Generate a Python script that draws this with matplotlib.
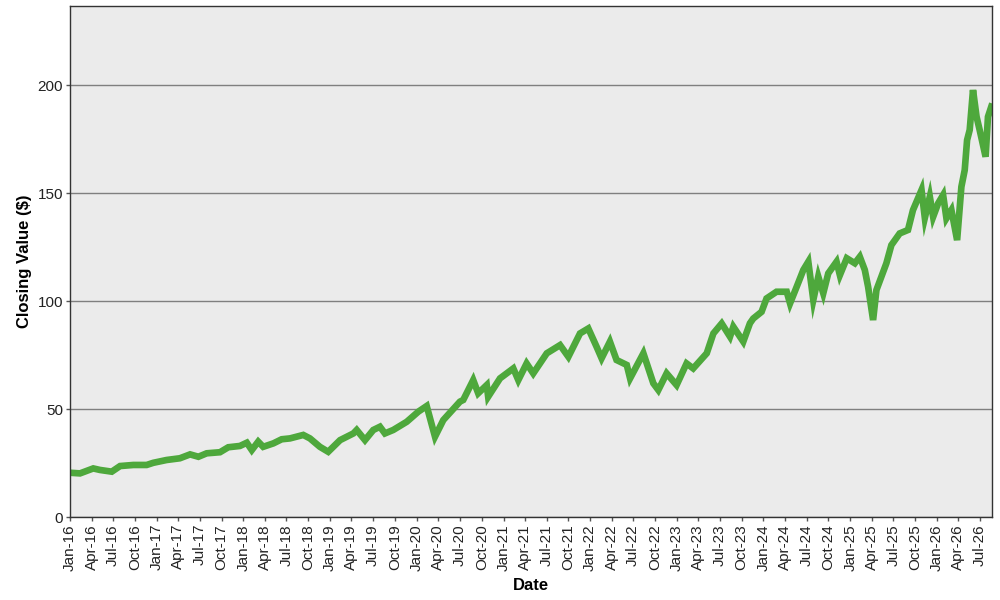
import matplotlib
matplotlib.use("Agg")
import matplotlib.pyplot as plt
import matplotlib.dates as mdates
import pandas as pd

# Closing values
fechas = [
    "2016-01-01", "2016-02-12", "2016-04-08", "2016-05-06", "2016-06-25", "2016-07-30",
    "2016-09-24", "2016-11-19", "2016-12-17", "2017-02-11", "2017-04-08", "2017-05-21",
    "2017-06-25", "2017-07-30", "2017-09-24", "2017-10-29", "2017-12-17", "2018-01-15",
    "2018-02-05", "2018-03-04", "2018-03-25", "2018-05-07", "2018-06-11", "2018-07-16",
    "2018-09-10", "2018-10-08", "2018-11-19", "2018-12-24", "2019-02-12",
    "2019-04-09", "2019-04-23", "2019-05-28", "2019-07-02", "2019-07-30", "2019-08-20",
    "2019-09-24", "2019-11-20", "2020-01-08", "2020-02-12", "2020-03-18", "2020-04-22",
    "2020-07-01", "2020-07-15", "2020-08-26", "2020-09-16", "2020-10-22", "2020-10-28",
    "2020-12-17", "2021-02-11", "2021-03-04", "2021-04-08", "2021-05-06", "2021-07-02",
    "2021-08-27", "2021-10-01", "2021-11-19", "2021-12-24", "2022-01-28", "2022-02-18",
    "2022-03-25", "2022-04-22", "2022-06-04", "2022-06-18", "2022-08-13", "2022-09-24",
    "2022-10-15", "2022-11-19", "2022-12-31", "2023-02-11", "2023-03-11", "2023-05-07",
    "2023-06-04", "2023-07-09", "2023-08-13", "2023-08-27", "2023-10-08", "2023-11-05",
    "2023-11-19", "2023-12-24", "2024-01-14", "2024-02-25", "2024-04-08", "2024-04-22",
    "2024-05-20", "2024-06-17", "2024-07-08", "2024-07-29", "2024-08-19", "2024-09-09",
    "2024-09-30", "2024-11-04", "2024-11-18", "2024-12-17", "2025-01-20", "2025-02-10",
    "2025-03-03", "2025-03-17", "2025-04-07", "2025-04-21", "2025-05-12", "2025-06-02",
    "2025-06-23", "2025-07-28", "2025-09-01", "2025-09-22", "2025-10-28", "2025-11-11",
    "2025-12-02", "2025-12-16", "2026-01-06", "2026-01-27", "2026-02-10", "2026-03-03",
    "2026-03-27", "2026-04-14", "2026-04-28", "2026-05-08", "2026-05-19", "2026-06-02",
    "2026-06-17", "2026-06-30", "2026-07-25", "2026-08-04", "2026-08-18",
]
cierre = [
    20.5, 20.2, 22.5, 21.8, 21.0, 23.6,
    24.1, 24.1, 25.1, 26.4, 27.2, 29.0,
    27.9, 29.5, 30.0, 32.3, 32.9, 34.4,
    31.0, 34.9, 32.5, 34.1, 36.0, 36.4,
    38.0, 36.4, 32.5, 30.2, 35.6,
    38.7, 40.3, 35.6, 40.3, 41.8, 38.7,
    40.3, 44.1, 48.8, 51.4, 37.2, 44.9,
    53.4, 54.2, 63.4, 57.3, 61.1, 55.7,
    64.2, 68.8, 63.4, 71.1, 66.5, 75.8,
    79.6, 74.2, 85.0, 87.3, 78.8, 73.5,
    81.2, 72.7, 70.4, 64.2, 75.8, 61.9,
    58.8, 66.5, 61.1, 71.1, 68.8, 75.8,
    85.0, 89.6, 83.5, 88.1, 81.2, 89.7,
    91.9, 95.0, 101.2, 104.3, 104.3, 98.9,
    106.6, 114.4, 118.2, 100.5, 111.3, 103.6,
    112.8, 118.2, 112.0, 119.8, 117.5, 120.5,
    114.4, 106.6, 91.2, 105.1, 111.3, 117.5,
    125.9, 131.3, 132.9, 142.1, 151.4, 138.5,
    148.3, 139.0, 145.2, 149.1, 138.3, 142.1,
    128.2, 152.9, 160.6, 174.5, 179.2, 197.7,
    185.3, 179.2, 166.8, 185.3, 190.0,
]
y_ticks = [0, 50, 100, 150, 200]

fechas = pd.to_datetime(fechas)

plt.rcParams['font.family'] = ['Liberation Sans', 'DejaVu Sans']

fig = plt.figure(figsize=(10, 6), dpi=100)
ax = fig.add_axes([0.07, 0.1383, 0.922, 0.8517])
ax.set_facecolor('#ebebeb')

ax.plot(fechas, cierre, color='#4ea83c', linewidth=4.8, solid_joinstyle='miter')

ax.set_xlim(pd.Timestamp("2016-01-01"), pd.Timestamp("2026-08-21"))
ax.set_ylim(0, 236.6)
ax.set_yticks(y_ticks)
ax.yaxis.grid(True, color='#7f7f7f', linewidth=1)
ax.set_axisbelow(True)

ax.xaxis.set_major_locator(mdates.MonthLocator(bymonth=[1, 4, 7, 10]))
ax.xaxis.set_major_formatter(mdates.DateFormatter('%b-%y'))
plt.setp(ax.get_xticklabels(), rotation=90)

ax.tick_params(axis='both', labelsize=11, length=3, width=1, color='#555555',
               labelcolor='#222222', pad=2)
for lado in ax.spines.values():
    lado.set_color('#333333')
    lado.set_linewidth(1)

ax.set_xlabel("Date", fontsize=12, fontweight='bold', labelpad=5)
ax.set_ylabel("Closing Value ($)", fontsize=12, fontweight='bold', labelpad=4)

fig.savefig("out.png", dpi=100)
